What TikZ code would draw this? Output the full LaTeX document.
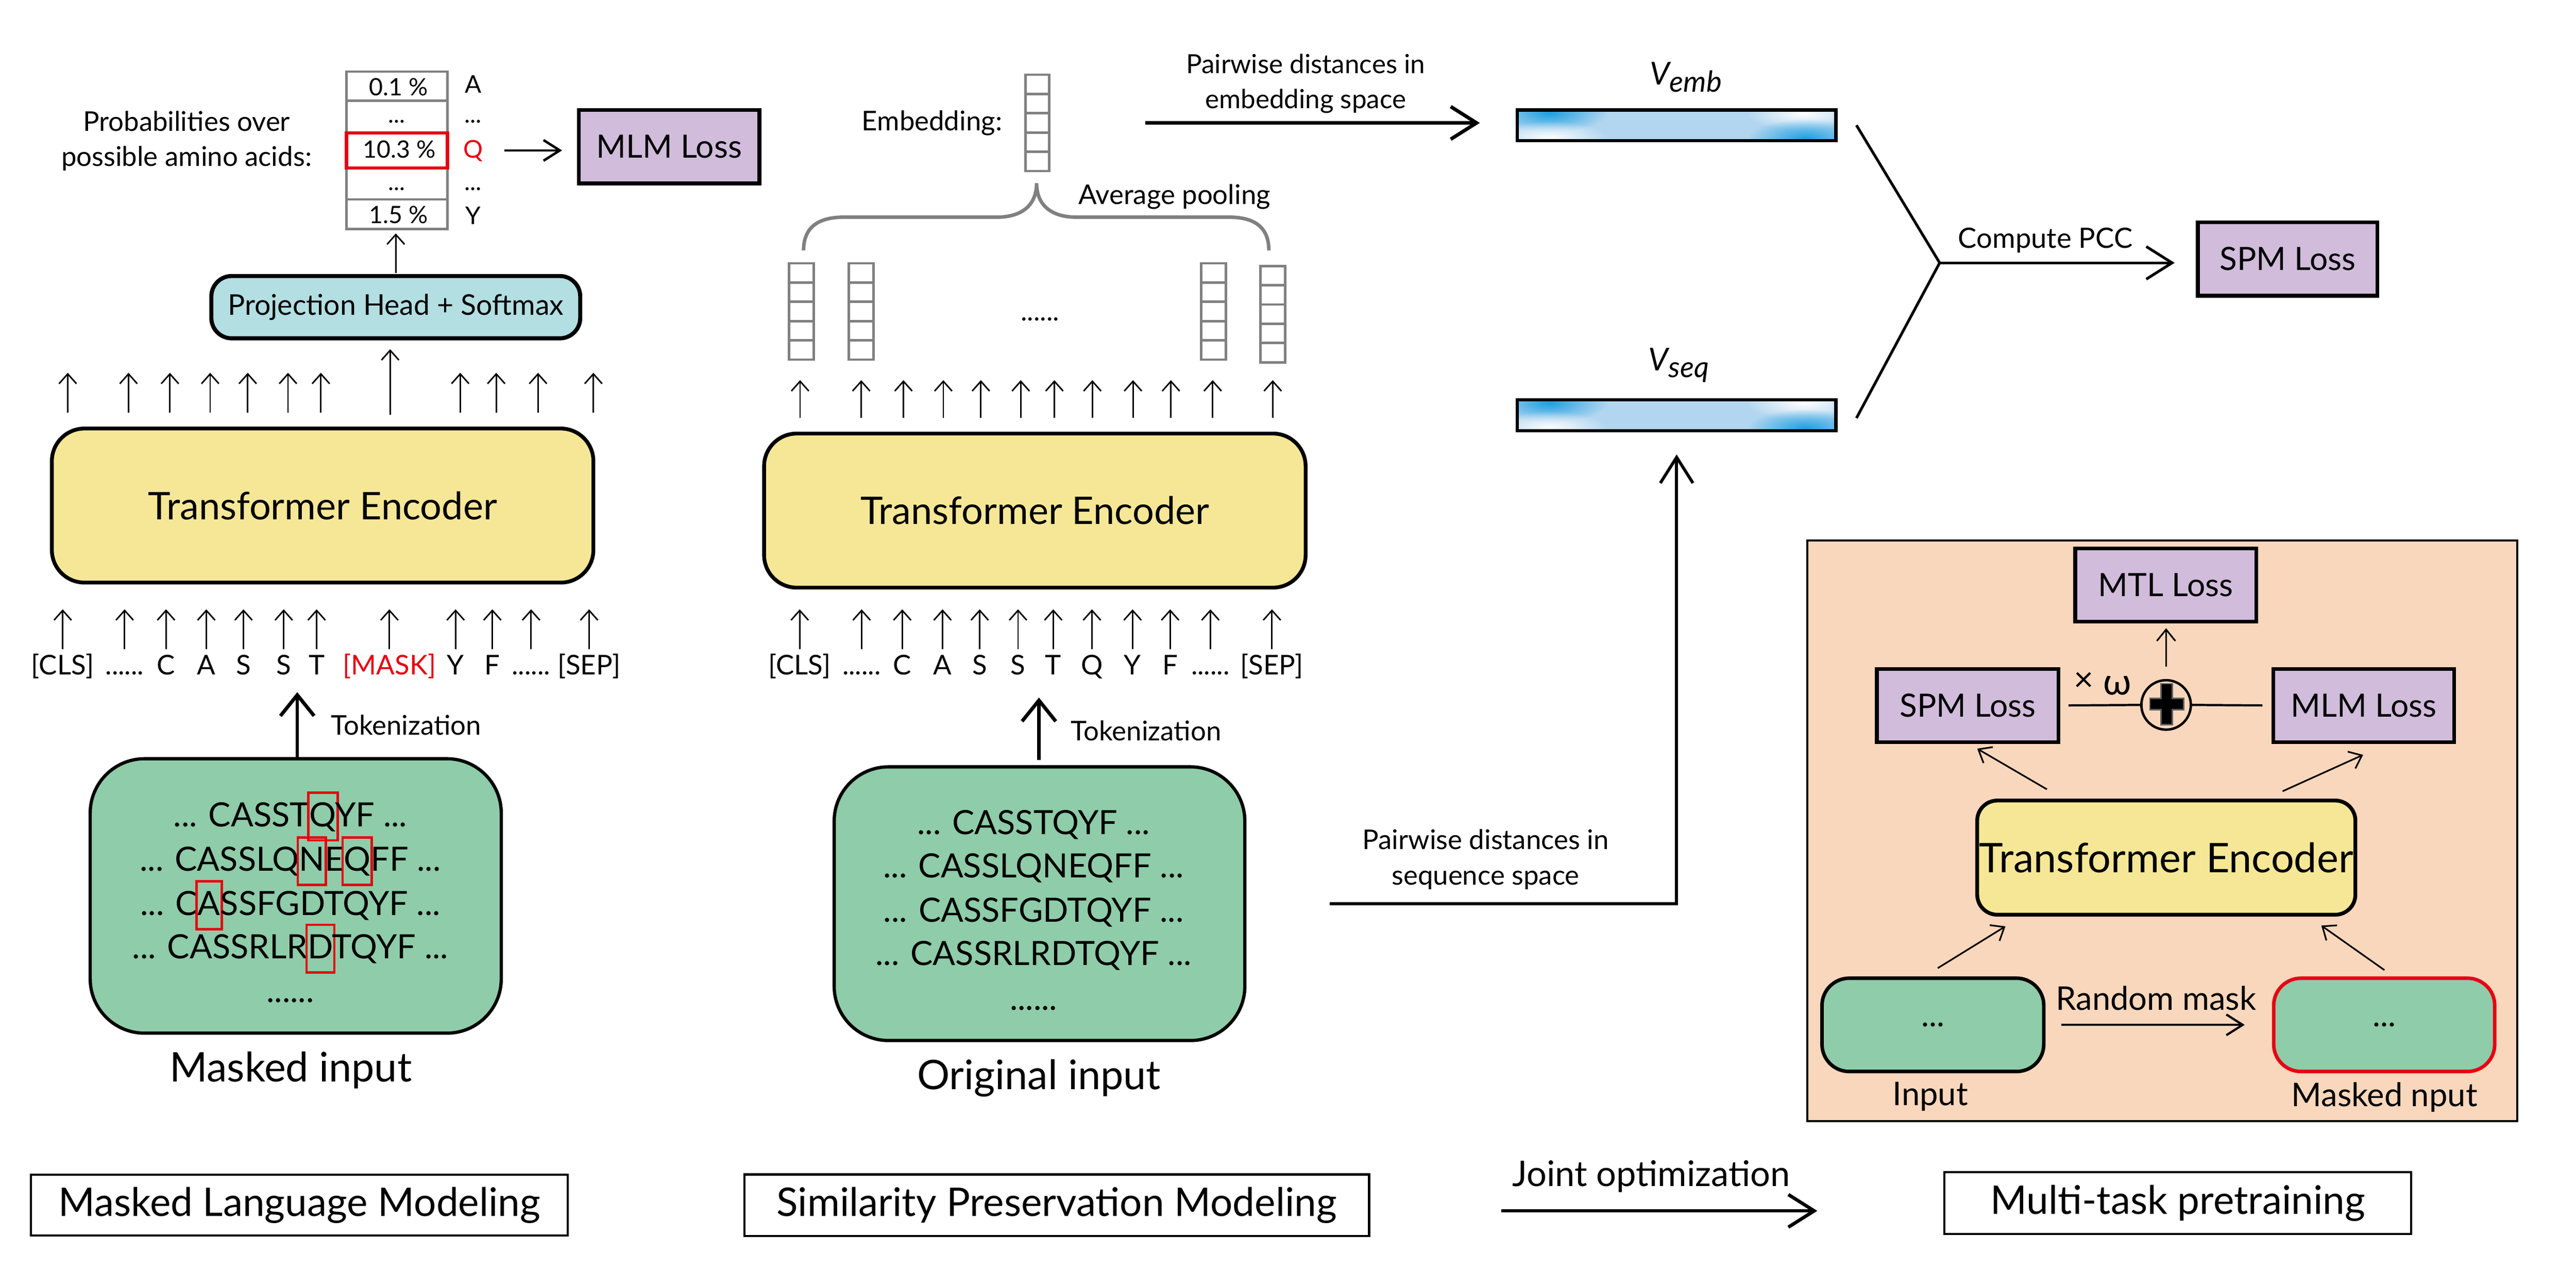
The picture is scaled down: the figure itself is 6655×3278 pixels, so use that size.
\documentclass[tikz,border=0pt]{standalone}
\usepackage{fontspec}
\setmainfont{Lato}
\usetikzlibrary{arrows.meta,fit,calc,fadings}
\definecolor{encY}{HTML}{F5E796}
\definecolor{grn}{HTML}{8FCCA9}
\definecolor{projB}{HTML}{B3DEE2}
\definecolor{lossP}{HTML}{D1BCDB}
\definecolor{peach}{HTML}{F9D7BC}
\definecolor{mred}{HTML}{E60012}
\definecolor{cellg}{HTML}{808080}
\definecolor{barB}{HTML}{B2D6F0}
\definecolor{barD}{HTML}{1EA0E1}
\definecolor{plusg}{HTML}{5F5F5F}
\tikzfading[name=blobfade, inner color=transparent!0, outer color=transparent!100]
\newcommand\fz[2]{\fontsize{#1}{#2}\selectfont}
\newcommand\rbx[1]{\rlap{\smash{\kern-0.9pt\raisebox{-0.38em}{\color{mred}\setlength\fboxsep{0pt}\setlength\fboxrule{0.9pt}\fbox{\rule{0pt}{1.35em}\hphantom{#1}}}}}#1}
\begin{document}
\begin{tikzpicture}[x=0.005cm,y=-0.005cm,
  every node/.style={inner sep=0pt, outer sep=0pt},
  lbl/.style={font=\fz{10}{13}},
  tok/.style={anchor=base, text height=8.2pt, text depth=0pt, font=\fz{10}{12}},
  celltxt/.style={anchor=base, font=\fz{8.8}{10}},
  gtxt/.style={anchor=base, font=\fz{12.3}{15}},
  cell/.style={draw=cellg, line width=0.9pt},
  tarr/.style={-{Straight Barb[length=3.6pt,width=6.4pt]}, line width=0.55pt},
  tokarr/.style={-{Straight Barb[length=7.7pt,width=12.4pt]}, line width=1.3pt},
  bigarr/.style={-{Straight Barb[length=9.5pt,width=12pt]}, line width=1.3pt},
  midarr/.style={-{Straight Barb[length=6pt,width=7.6pt]}, line width=0.9pt},
  iarr/.style={-{Straight Barb[length=4.2pt,width=6.8pt]}, line width=0.6pt},
  enc/.style={draw, line width=1.4pt, fill=encY, rounded corners=12pt},
  gbox/.style={draw, line width=1.2pt, fill=grn, rounded corners=20pt},
  loss/.style={draw, line width=1.4pt, fill=lossP},
  capbox/.style={draw, line width=0.8pt},
  captxt/.style={font=\fz{14.5}{17}},
  losstxt/.style={font=\fz{11.8}{14}},
  bigtxt/.style={anchor=base, font=\fz{15}{18}}
]
\useasboundingbox (0,0) rectangle (6655,3278);

% ================= LEFT: Masked Language Modeling =================
\node[fit={(895,185) (1156,592)}] (probcol) {};
\draw[cell] (895,185) rectangle (1156,260);
\draw[cell] (895,260) rectangle (1156,343);
\draw[cell] (895,434) rectangle (1156,515);
\draw[cell] (895,515) rectangle (1156,592);
\node[draw=mred, line width=1.2pt, fit={(895,343) (1156,434)}] (pq) {};
\node[celltxt] at (1030,247) {0.1 \%};
\node[celltxt] at (1025,317) {...};
\node[celltxt] at (1032,408) {10.3 \%};
\node[celltxt] at (1025,492) {...};
\node[celltxt] at (1030,577) {1.5 \%};
\node[anchor=base, font=\fz{9}{10}] at (1222,240) {A};
\node[anchor=base, font=\fz{9}{10}] at (1222,317) {...};
\node[anchor=base, font=\fz{9}{10}, text=mred] (qlab) at (1222,408) {Q};
\node[anchor=base, font=\fz{9}{10}] at (1222,492) {...};
\node[anchor=base, font=\fz{9}{10}] at (1222,580) {Y};
\node[lbl, align=center] (probtxt) at (482,364) {Probabilities over\\possible amino acids:};

\node[loss, fit={(1495,284) (1962,474)}] (mlmT) {};
\node[losstxt] at (mlmT) {MLM Loss};
\draw[midarr, shorten <=21pt, shorten >=6.1pt] (pq.east) -- (pq.east -| mlmT.west);

\node[draw, line width=1.5pt, fill=projB, rounded corners=7.5pt, fit={(546,713) (1499,874)}] (proj) {};
\node[font=\fz{10.5}{12}] at (proj) {Projection Head + Softmax};
\draw[tarr, shorten <=1.14pt, shorten >=1.56pt] (proj.north) -- (proj.north |- probcol.south);

\node[enc, fit={(134,1107) (1533,1505)}] (encL) {};
\node[font=\fz{14}{16}] at (encL) {Transformer Encoder};
\foreach \x [count=\i] in {175,332,439,543,640,744,829,1189,1282,1390,1533} {
  \coordinate (aL\i) at (\x,963);
  \draw[tarr, shorten <=5.83pt] (encL.north -| aL\i) -- (aL\i);
}
\coordinate (pjt) at (1008,902);
\draw[tarr, shorten <=4.98pt] (encL.north -| pjt) -- (pjt);

\foreach \x/\lab [count=\i] in {162/{[CLS]},322/{......},429/C,533/A,629/S,733/S,818/T,1006/{\textcolor{mred}{[MASK]}},1177/Y,1272/F,1372/{......},1522/{[SEP]}} {
  \node[tok] (tL\i) at (\x,1743) {\lab};
  \draw[tarr, shorten <=1.28pt, shorten >=9.82pt] (tL\i.north) -- (tL\i.north |- encL.south);
}

\node[gbox, fit={(233,1960) (1295,2669)}] (gL) {};
\coordinate (tkL) at (768,1788);
\draw[tokarr] (gL.north -| tkL) -- (tkL);
\node[lbl, anchor=base west] at (855,1899) {Tokenization};
\node[gtxt] at (750,2135) {... CASST\rbx{Q}YF ...};
\node[gtxt] at (750,2250) {... CASSLQ\rbx{N}E\rbx{Q}FF ...};
\node[gtxt] at (750,2364) {... C\rbx{A}SSFGDTQYF ...};
\node[gtxt] at (750,2476) {... CASSRLR\rbx{D}TQYF ...};
\node[gtxt] at (750,2590) {......};
\node[bigtxt] at (751,2795) {Masked input};
\node[capbox, fit={(80,3035) (1467,3192)}] (capL) {};
\node[captxt] at (capL) {Masked Language Modeling};

% ================= MIDDLE: Similarity Preservation Modeling =================
\foreach \k in {0,...,4} \draw[cell] (2649,193+\k*49.8) rectangle ++(62,49.8);
\node[fit={(2649,193) (2711,442)}] (embcol) {};
\node[lbl, anchor=base east] at (2589,338) {Embedding:};
\foreach \cx/\cy in {2038/680,2193/680,3103/680,3256/687}
  \foreach \k in {0,...,4} \draw[cell] (\cx,\cy+\k*49.8) rectangle ++(64,49.8);
\node[lbl, anchor=base] at (2687,829) {......};
\draw[cellg, line width=1.3pt] (2076,647) .. controls (2076,590) and (2110,561) .. (2180,561) -- (2575,561)
  .. controls (2640,561) and (2678,530) .. (2678,473)
  .. controls (2678,530) and (2716,561) .. (2781,561) -- (3175,561)
  .. controls (3245,561) and (3278,590) .. (3278,647);
\node[lbl, anchor=base] at (3034,528) {Average pooling};

\node[enc, fit={(1974,1120) (3373,1518)}] (encM) {};
\node[font=\fz{14}{16}] at (encM) {Transformer Encoder};
\foreach \x [count=\i] in {2067,2225,2334,2437,2534,2637,2724,2822,2927,3025,3133,3288} {
  \coordinate (aM\i) at (\x,982);
  \draw[tarr, shorten <=5.69pt] (encM.north -| aM\i) -- (aM\i);
}
\foreach \x/\lab [count=\i] in {2066/{[CLS]},2226/{......},2331/C,2435/A,2531/S,2630/S,2721/T,2821/Q,2926/Y,3023/F,3127/{......},3286/{[SEP]}} {
  \node[tok] (tM\i) at (\x,1743) {\lab};
  \draw[tarr, shorten <=1.14pt, shorten >=7.97pt] (tM\i.north) -- (tM\i.north |- encM.south);
}

\node[gbox, fit={(2155,1981) (3216,2688)}] (gM) {};
\coordinate (tkM) at (2684,1802);
\draw[tokarr, shorten <=2.56pt] (gM.north -| tkM) -- (tkM);
\node[lbl, anchor=base west] at (2767,1913) {Tokenization};
\node[gtxt] at (2670,2155) {... CASSTQYF ...};
\node[gtxt] at (2670,2267) {... CASSLQNEQFF ...};
\node[gtxt] at (2670,2382) {... CASSFGDTQYF ...};
\node[gtxt] at (2670,2493) {... CASSRLRDTQYF ...};
\node[gtxt] at (2670,2610) {......};
\node[bigtxt] at (2684,2814) {Original input};
\node[capbox, fit={(1923,3034) (3537,3193)}] (capM) {};
\node[captxt] at (capM) {Similarity Preservation Modeling};

% ================= V bars =================
\node[fit={(3920,284) (4743,363)}, fill=barB] (vemb) {};
\node[fit={(3920,1033) (4743,1113)}, fill=barB] (vseq) {};
\foreach \yy in {284,1033} {
  \begin{scope}
    \clip (3920,\yy) rectangle (4743,\yy+80);
    \fill[barD, path fading=blobfade] (4003,\yy+8) ellipse [x radius=150, y radius=50];
    \fill[white, path fading=blobfade] (4003,\yy+74) ellipse [x radius=150, y radius=45];
    \fill[white, path fading=blobfade] (4660,\yy+8) ellipse [x radius=150, y radius=45];
    \fill[barD, path fading=blobfade] (4664,\yy+74) ellipse [x radius=150, y radius=50];
  \end{scope}
}
\draw[line width=1.2pt] (vemb.north west) rectangle (vemb.south east);
\draw[line width=1.2pt] (vseq.north west) rectangle (vseq.south east);
\node[anchor=base, font=\fz{11.6}{14}] at (4355,219) {\itshape V\raisebox{-2.6pt}{\fz{10.7}{12}emb}};
\node[anchor=base, font=\fz{11.6}{14}] at (4337,957) {\itshape V\raisebox{-2.6pt}{\fz{10.7}{12}seq}};

\node[lbl, align=center, font=\fz{9.7}{13}] at (3373,216) {Pairwise distances in\\embedding space};
\draw[bigarr, shorten <=35.28pt, shorten >=13.8pt] (embcol.east) -- (embcol.east -| vemb.west);

\node[lbl, align=center] at (3838,2220) {Pairwise distances in\\sequence space};
\draw[bigarr, line width=1.1pt, shorten >=8.68pt] ([xshift=31.3pt]gM.east) -| (vseq.south);

\coordinate (pcc) at (5011,679);
\draw[line width=1pt] ($(vemb.east)+(53,0)$) -- (pcc) -- ($(vseq.east)+(53,7)$);
\node[loss, fit={(5678,574) (6142,764)}] (spmT) {};
\node[losstxt] at (spmT) {SPM Loss};
\draw[bigarr, line width=1pt, shorten >=8.54pt] (pcc) -- (pcc -| spmT.west);
\node[anchor=base, font=\fz{10.3}{12}] at (5284,641) {Compute PCC};

% ================= RIGHT PANEL =================
\node[draw, line width=0.8pt, fill=peach, fit={(4669,1396) (6503,2896)}] (panel) {};
\node[loss, fit={(5361,1417) (5829,1606)}] (mtl) {};
\node[losstxt] at (mtl) {MTL Loss};
\node[loss, fit={(4849,1728) (5318,1917)}] (spmI) {};
\node[losstxt] at (spmI) {SPM Loss};
\node[loss, fit={(5873,1728) (6340,1917)}] (mlmI) {};
\node[losstxt] at (mlmI) {MLM Loss};
\node[circle, draw, line width=0.9pt, minimum size=18.2pt] (plus) at (5596,1821) {};
\filldraw[fill=black, draw=plusg, line width=0.5pt] (5583,1766) -- (5612,1766) -- (5612,1804) -- (5641,1804) -- (5641,1833) -- (5612,1833) -- (5612,1872) -- (5583,1872) -- (5583,1833) -- (5554,1833) -- (5554,1804) -- (5583,1804) -- cycle;
\draw[line width=0.8pt, shorten <=3.7pt] (spmI.east) -- (plus.west);
\draw[line width=0.8pt, shorten >=4pt] (plus.east) -- (mlmI.west);
\draw[iarr, shorten <=5pt, shorten >=2.4pt] (plus.north) -- (plus.north |- mtl.south);
\node[anchor=base, font=\fz{12.5}{14}] at (5384,1785) {×};
\node[anchor=base, font=\fz{13.5}{15}] at (5470,1795) {ω};

\node[enc, rounded corners=7.4pt, fit={(5108,2068) (6085,2363)}] (encI) {};
\node[font=\fz{15}{17}] at (encI) {Transformer Encoder};
\node[gbox, rounded corners=10pt, line width=1.3pt, fit={(4707,2527) (5280,2768)}] (inp) {};
\node[font=\fz{12}{14}] at (inp) {...};
\node[gbox, draw=mred, rounded corners=10pt, line width=1.3pt, fit={(5874,2527) (6445,2768)}] (minp) {};
\node[font=\fz{12}{14}] at (minp) {...};
\node[anchor=base, font=\fz{12}{14}] at (4987,2855) {Input};
\node[anchor=base, font=\fz{12}{14}] at (6160,2858) {Masked nput};
\node[anchor=base, font=\fz{12}{14}] at (5570,2610) {Random mask};

\draw[iarr] ($(encI.north west)+(180,-29)$) -- ($(spmI.south west)+(259,17)$);
\draw[iarr] ($(encI.north west)+(789,-24)$) -- ($(mlmI.south west)+(232,33)$);
\draw[iarr] ($(inp.north west)+(299,-26)$) -- ($(encI.south west)+(73,30)$);
\draw[iarr] ($(minp.north west)+(286,-21)$) -- ($(encI.south west)+(889,28)$);
\draw[midarr, line width=0.8pt, shorten <=6.4pt, shorten >=10.67pt] (inp.east) -- (minp.west);

% ================= Bottom =================
\node[capbox, fit={(5023,3028) (6229,3188)}] (capR) {};
\node[captxt] at (capR) {Multi-task pretraining};
\coordinate (jA) at (3879,3128);
\coordinate (jB) at (4695,3128);
\draw[bigarr, line width=1.25pt] (jA) -- (jB);
\node[anchor=base, font=\fz{13}{15}] at (4266,3064) {Joint optimization};
\end{tikzpicture}
\end{document}
